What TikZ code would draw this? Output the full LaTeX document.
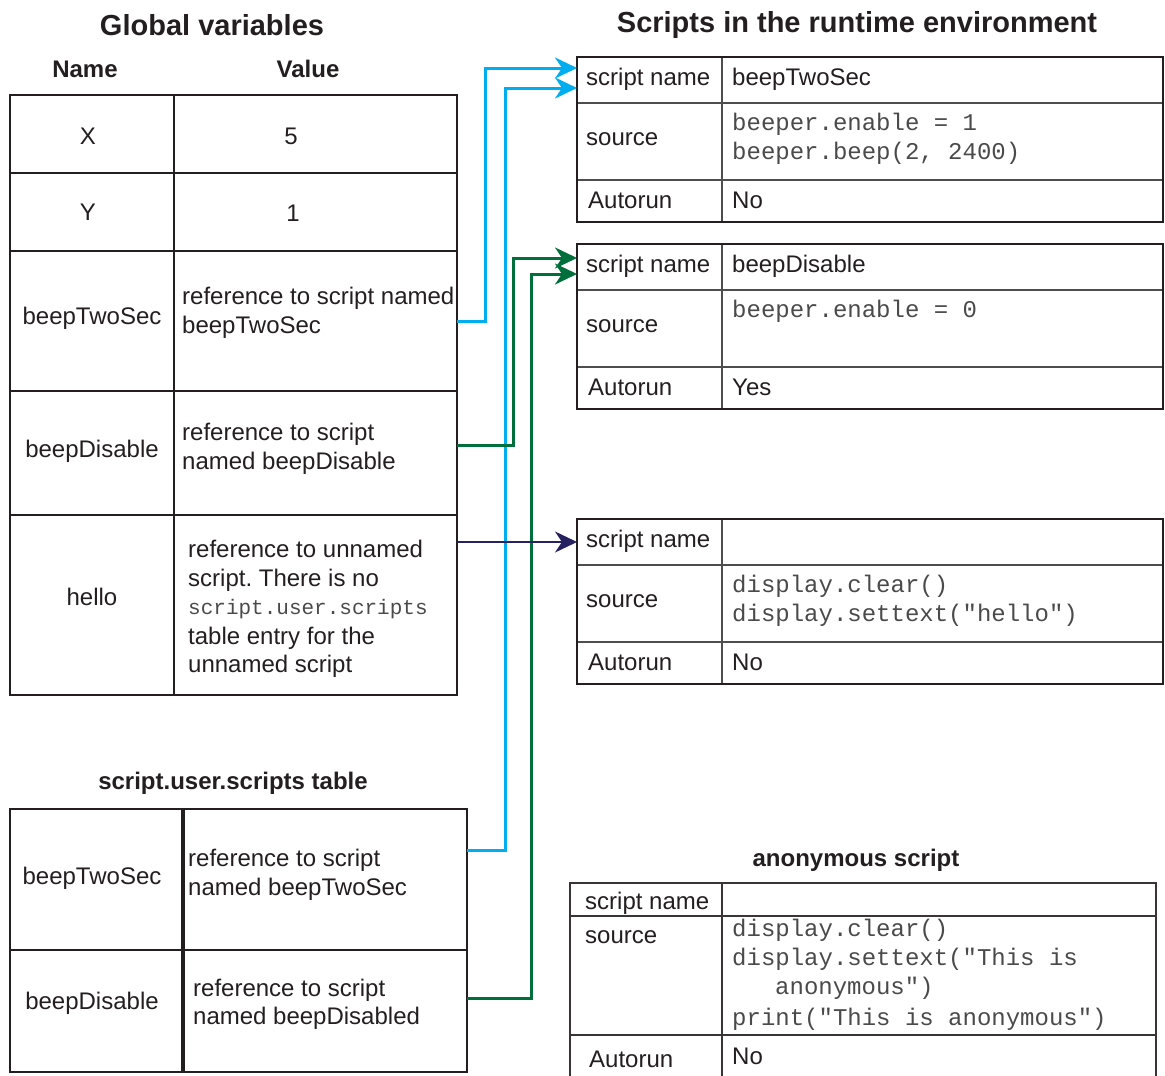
\documentclass[tikz,border=0pt]{standalone}
\usepackage{fontspec}
\setmainfont{Liberation Sans}
\newfontfamily\codefont{Liberation Mono}
\usetikzlibrary{arrows.meta}
\frenchspacing
\definecolor{ink}{HTML}{231F20}
\definecolor{rowline}{HTML}{4D4D4D}
\definecolor{codeink}{HTML}{4A4A4A}
\definecolor{cyanline}{HTML}{00AEEF}
\definecolor{greenline}{HTML}{006F3C}
\definecolor{navyline}{HTML}{262262}
\newcommand{\sctable}[2]{%
  \node[scell, minimum width=145pt, minimum height=46pt] (#1na) at (577,#2) {};
  \node[scell, minimum width=441pt, minimum height=46pt] (#1nb) at (722,#2) {};
  \node[scell, minimum width=145pt, minimum height=77pt] (#1sa) at (577,#2+46) {};
  \node[scell, minimum width=441pt, minimum height=77pt] (#1sb) at (722,#2+46) {};
  \node[scell, minimum width=145pt, minimum height=42pt] (#1aa) at (577,#2+123) {};
  \node[scell, minimum width=441pt, minimum height=42pt] (#1ab) at (722,#2+123) {};
  \draw[frame] (#1na.north west) rectangle (#1ab.south east);
  \node[txt] (#1l1) at (586,#2+28) {script name};
  \node[txt] (#1l2) at (586,#2+88) {source};
  \node[txt] (#1l3) at (588,#2+151) {Autorun};
}
\begin{document}
\begin{tikzpicture}[x=1pt,y=-1pt,
  txt/.style={font=\fontsize{24}{28}\selectfont, inner sep=0, anchor=base west, text=ink},
  ctxt/.style={txt, anchor=base},
  code/.style={font=\codefont\fontsize{24}{28}\selectfont, inner sep=0, anchor=base west, text=codeink},
  ttl/.style={font=\bfseries\fontsize{29}{34}\selectfont, inner sep=0, anchor=base, text=ink},
  hdr/.style={font=\bfseries\fontsize{24}{28}\selectfont, inner sep=0, anchor=base, text=ink},
  gcell/.style={draw=ink, line width=2.8pt, inner sep=0, outer sep=0, anchor=north west},
  scell/.style={draw=rowline, line width=1.5pt, inner sep=0, outer sep=0, anchor=north west},
  frame/.style={draw=ink, line width=2.8pt},
  acell/.style={draw=ink!90, line width=1.8pt, inner sep=0, outer sep=0, anchor=north west},
  tip/.style={-{Stealth[length=22pt,width=21pt,inset=7pt]}},
  cyanarrow/.style={tip, draw=cyanline, line width=3pt},
  greenarrow/.style={tip, draw=greenline, line width=3pt},
  navyarrow/.style={tip, draw=navyline, line width=2.5pt}
]
\useasboundingbox (0,0) rectangle (1165,1076);

% ---------- Titles ----------
\node[ttl] (tglob) at (212,35) {Global variables};
\node[ttl] (trun) at (857,32) {Scripts in the runtime environment};
\node[hdr] (hname) at (85,77) {Name};
\node[hdr] (hval) at (308,77) {Value};
\node[hdr] (tsus) at (233,789) {script.user.scripts table};
\node[hdr] (tanon) at (856,866) {anonymous script};

% ---------- Global variables table ----------
\node[gcell, minimum width=164pt, minimum height=78pt] (g1n) at (10,95) {};
\node[gcell, minimum width=283pt, minimum height=78pt] (g1v) at (174,95) {};
\node[gcell, minimum width=164pt, minimum height=78pt] (g2n) at (10,173) {};
\node[gcell, minimum width=283pt, minimum height=78pt] (g2v) at (174,173) {};
\node[gcell, minimum width=164pt, minimum height=140pt] (g3n) at (10,251) {};
\node[gcell, minimum width=283pt, minimum height=140pt] (g3v) at (174,251) {};
\node[gcell, minimum width=164pt, minimum height=124pt] (g4n) at (10,391) {};
\node[gcell, minimum width=283pt, minimum height=124pt] (g4v) at (174,391) {};
\node[gcell, minimum width=164pt, minimum height=180pt] (g5n) at (10,515) {};
\node[gcell, minimum width=283pt, minimum height=180pt] (g5v) at (174,515) {};

\node[ctxt] (gx) at (88,144) {X};
\node[ctxt] (g5) at (291,144) {5};
\node[ctxt] (gy) at (88,220) {Y};
\node[ctxt] (g1) at (293,221) {1};
\node[ctxt] (gbts) at (92,324) {beepTwoSec};
\node[txt] (gbtsv1) at (182,304) {reference to script named};
\node[txt] (gbtsv2) at (182,333) {beepTwoSec};
\node[ctxt] (gbd) at (92,457) {beepDisable};
\node[txt] (gbdv1) at (182,440) {reference to script};
\node[txt] (gbdv2) at (182,469) {named beepDisable};
\node[ctxt] (ghel) at (92,605) {hello};
\node[txt] (ghv1) at (188,557) {reference to unnamed};
\node[txt] (ghv2) at (188,586) {script. There is no};
\node[code, font=\codefont\fontsize{21}{25}\selectfont] (ghv3) at (188,614) {script.user.scripts};
\node[txt] (ghv4) at (188,644) {table entry for the};
\node[txt] (ghv5) at (188,672) {unnamed script};

% ---------- script.user.scripts table ----------
\node[gcell, minimum width=173pt, minimum height=141pt] (s1n) at (10,809) {};
\node[gcell, minimum width=284pt, minimum height=141pt] (s1v) at (183,809) {};
\node[gcell, minimum width=173pt, minimum height=122pt] (s2n) at (10,950) {};
\node[gcell, minimum width=284pt, minimum height=122pt] (s2v) at (183,950) {};
\draw[ink, line width=3.5pt] (s1v.north west) -- (s2v.south west);
\node[ctxt] (sbts) at (92,884) {beepTwoSec};
\node[txt] (sbtsv1) at (188,866) {reference to script};
\node[txt] (sbtsv2) at (188,895) {named beepTwoSec};
\node[ctxt] (sbd) at (92,1009) {beepDisable};
\node[txt] (sbdv1) at (193,996) {reference to script};
\node[txt] (sbdv2) at (193,1024) {named beepDisabled};

% ---------- Runtime script tables ----------
\sctable{ta}{57}
\node[txt] (tanm) at (732,85) {beepTwoSec};
\node[code] (tac1) at (732,130) {beeper.enable = 1};
\node[code] (tac2) at (732,159) {beeper.beep(2, 2400)};
\node[txt] (taar) at (732,208) {No};

\sctable{tb}{244}
\node[txt] (tbnm) at (732,272) {beepDisable};
\node[code] (tbc1) at (732,317) {beeper.enable = 0};
\node[txt] (tbar) at (732,395) {Yes};

\sctable{tc}{519}
\node[code] (tcc1) at (732,592) {display.clear()};
\node[code] (tcc2) at (732,621) {display.settext("hello")};
\node[txt] (tcar) at (732,670) {No};

% ---------- Anonymous script table ----------
\node[acell, minimum width=152pt, minimum height=33pt] (ana) at (570,883) {};
\node[acell, minimum width=434pt, minimum height=33pt] (anb) at (722,883) {};
\node[acell, minimum width=152pt, minimum height=119pt] (asa) at (570,916) {};
\node[acell, minimum width=434pt, minimum height=119pt] (asb) at (722,916) {};
\coordinate (abl) at (570,1076);
\draw[ink!90, line width=1.8pt] (asa.south west) -- (abl);
\draw[ink!90, line width=1.8pt] (asb.south west) -- (asb.south west |- abl);
\draw[ink!90, line width=1.8pt] (asb.south east) -- (asb.south east |- abl);
\node[txt] (anl1) at (585,909) {script name};
\node[txt] (anl2) at (585,943) {source};
\node[txt] (anl3) at (589,1067) {Autorun};
\node[code] (anc1) at (732,936) {display.clear()};
\node[code] (anc2) at (732,965) {display.settext("This is};
\node[code] (anc3) at (775,994) {anonymous")};
\node[code] (anc4) at (732,1025) {print("This is anonymous")};
\node[txt] (anar) at (732,1064) {No};

% ---------- Connectors ----------
\draw[cyanarrow] (g3v.east) -- ++(28,0) |- ([yshift=12pt]tana.west);
\draw[cyanarrow] ([yshift=29.5pt]s1v.east) -- ++(38,0) |- ([yshift=-8pt]tana.west);
\draw[greenarrow] ([yshift=8pt]g4v.east) -- ++(56,0) |- ([yshift=9pt]tbna.west);
\draw[greenarrow] ([yshift=13pt]s2v.east) -- ++(64,0) |- ([yshift=-7pt]tbna.west);
\draw[navyarrow] (g5v.east |- tcna.west) -- (tcna.west);
\end{tikzpicture}
\end{document}
